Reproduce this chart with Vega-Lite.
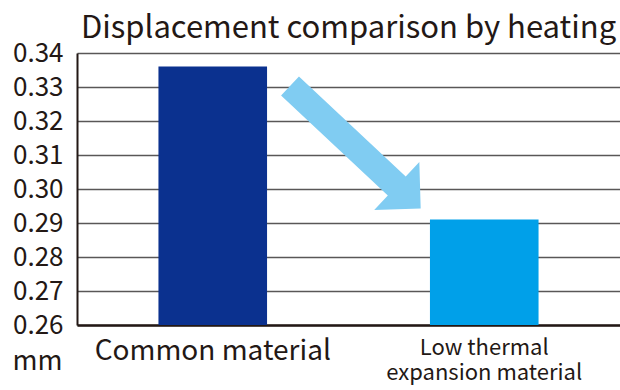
{
  "$schema": "https://vega.github.io/schema/vega-lite/v6.json",
  "width": 543,
  "height": 272,
  "autosize": {"type": "none"},
  "padding": {"left": 77, "top": 53, "right": 0, "bottom": 65},
  "background": "white",
  "title": {
    "text": "Displacement comparison by heating",
    "anchor": "start",
    "frame": "group",
    "font": "Noto Sans CJK JP",
    "fontSize": 31,
    "fontWeight": "normal",
    "color": "#231815",
    "baseline": "alphabetic",
    "offset": -28.5,
    "dx": 4
  },
  "config": {
    "view": {"stroke": null},
    "font": "Noto Sans CJK JP"
  },
  "data": {
    "values": [
      {"material": "Common material", "displacement": 0.336},
      {"material": "Low thermal expansion material", "displacement": 0.291}
    ]
  },
  "layer": [
    {
      "mark": {"type": "bar", "clip": true},
      "encoding": {
        "x": {
          "field": "material",
          "type": "nominal",
          "sort": null,
          "scale": {"paddingInner": 0.6, "paddingOuter": 0.3},
          "axis": {
            "title": null,
            "domain": true,
            "domainColor": "#231815",
            "domainWidth": 2.5,
            "ticks": false,
            "grid": false,
            "labelAngle": 0,
            "labelLimit": 0,
            "labelOverlap": false,
            "labelColor": "#231815",
            "labelBaseline": "top",
            "labelPadding": 12,
            "labelLineHeight": 25,
            "labelFontWeight": "normal",
            "labelExpr": "datum.value == 'Low thermal expansion material' ? ['Low thermal', 'expansion material'] : datum.value",
            "labelFontSize": {"condition": {"test": "datum.value == 'Common material'", "value": 28}, "value": 22}
          }
        },
        "y": {
          "field": "displacement",
          "type": "quantitative",
          "scale": {"domain": [0.26, 0.34], "nice": false, "zero": false},
          "axis": {
            "values": [0.26, 0.27, 0.28, 0.29, 0.3, 0.31, 0.32, 0.33, 0.34],
            "tickCount": 9,
            "format": ".2f",
            "domain": true,
            "domainColor": "#231815",
            "domainWidth": 2,
            "ticks": false,
            "grid": true,
            "gridColor": "#595757",
            "gridWidth": 1.5,
            "labelOverlap": false,
            "labelColor": "#231815",
            "labelFontSize": 26,
            "labelPadding": 14,
            "labelBaseline": "middle",
            "title": "mm",
            "titleAngle": 0,
            "titleAlign": "right",
            "titleBaseline": "alphabetic",
            "titleX": -15,
            "titleY": 316,
            "titleFontSize": 27,
            "titleFontWeight": "normal",
            "titleColor": "#231815"
          }
        },
        "color": {
          "field": "material",
          "type": "nominal",
          "sort": null,
          "scale": {"range": ["#0b318f", "#00a0e9"]},
          "legend": null
        }
      }
    },
    {
      "data": {"values": [{"from": "Common material", "level": 0.3123}]},
      "mark": {
        "type": "point",
        "shape": "M -1 -0.146 L 0.634 -0.146 L 0.634 -0.3685 L 1 0 L 0.634 0.3685 L 0.634 0.146 L -1 0.146 Z",
        "size": 32077,
        "angle": 43.15,
        "filled": true,
        "color": "#80ccf2",
        "opacity": 1,
        "strokeWidth": 0,
        "xOffset": 142.6
      },
      "encoding": {
        "x": {"field": "from", "type": "nominal", "sort": null},
        "y": {"field": "level", "type": "quantitative"}
      }
    }
  ]
}
